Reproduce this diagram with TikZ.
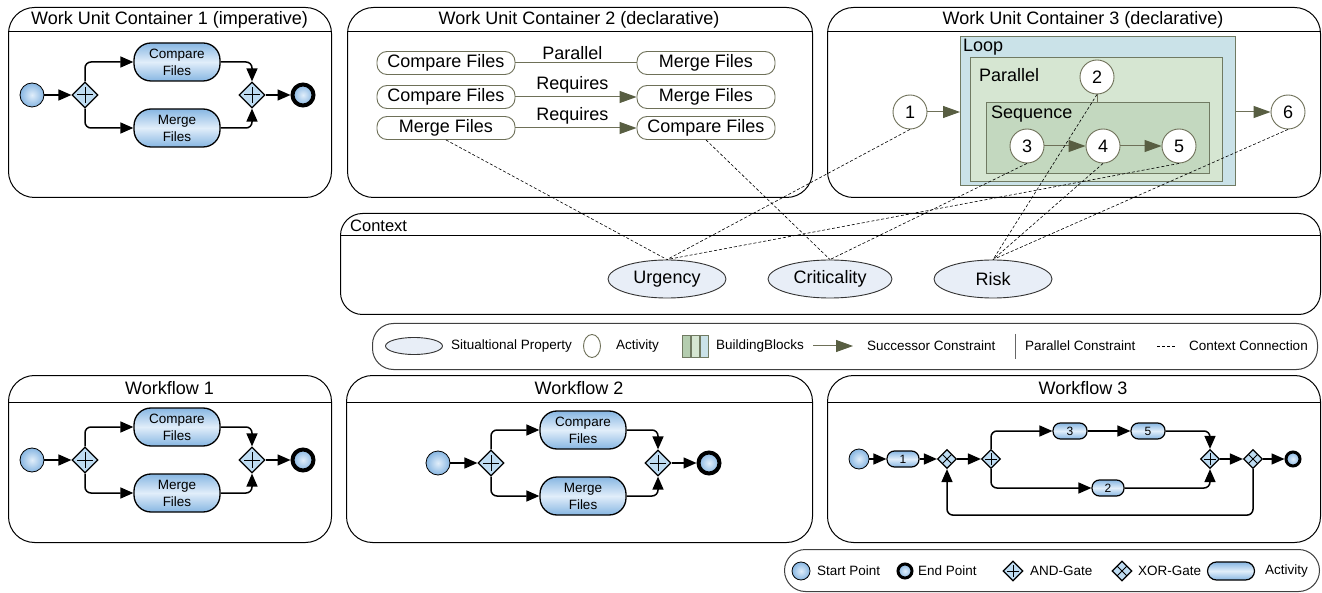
\documentclass[tikz,border=0pt]{standalone}
\usepackage{fontspec}
\setmainfont{Liberation Sans}
\usetikzlibrary{shapes.geometric,arrows.meta,calc}

\definecolor{actblue}{RGB}{135,182,226}
\definecolor{actlight}{RGB}{225,238,250}
\definecolor{gatefill}{RGB}{190,220,242}
\definecolor{oliveln}{RGB}{110,112,88}
\definecolor{olivedark}{RGB}{88,94,66}
\definecolor{bbline}{RGB}{112,122,98}
\definecolor{loopfill}{RGB}{202,226,232}
\definecolor{parfill}{RGB}{214,230,210}
\definecolor{seqfill}{RGB}{195,216,191}
\definecolor{propfill}{RGB}{232,238,247}
\definecolor{bbdark}{RGB}{180,205,175}

\newcommand\myfA{\fontsize{18}{20}\selectfont}
\newcommand\myfB{\fontsize{16.5}{18}\selectfont}
\newcommand\myfC{\fontsize{13.5}{17}\selectfont}
\newcommand\myfD{\fontsize{12}{13}\selectfont}

\tikzset{
  container/.style={draw=black, line width=1pt, rounded corners=26pt, fill=white, inner sep=0pt},
  legendbox/.style={draw=black!75, line width=1pt, rounded corners=21pt, fill=white, inner sep=0pt},
  ttl/.style={font=\myfA, inner sep=0pt},
  lgt/.style={font=\myfC, inner sep=0pt, anchor=west},
  act/.style={draw=black, line width=1.3pt, rounded corners=17pt, top color=actblue, bottom color=actblue,
    middle color=actlight, align=center, font=\myfC, inner sep=0pt, minimum width=86, minimum height=38},
  actS/.style={draw=black, line width=1.2pt, rounded corners=7.5pt, top color=actblue, bottom color=actblue,
    middle color=actlight, font=\myfD, inner sep=0pt, minimum width=32, minimum height=16},
  startpt/.style={circle, draw=black, line width=0.8pt, inner color=actlight, outer color=actblue, minimum size=24, inner sep=0pt},
  endpt/.style={circle, draw=black, line width=4pt, inner color=actlight, outer color=actblue, minimum size=21, inner sep=0pt},
  gatebase/.style={diamond, aspect=1, draw=black, line width=1.2pt, fill=gatefill, minimum size=26, inner sep=0pt},
  andgate/.style={gatebase, path picture={
    \draw[line width=1pt] ($(path picture bounding box.west)!0.2!(path picture bounding box.east)$) -- ($(path picture bounding box.west)!0.8!(path picture bounding box.east)$)
      ($(path picture bounding box.north)!0.2!(path picture bounding box.south)$) -- ($(path picture bounding box.north)!0.8!(path picture bounding box.south)$);}},
  xorgate/.style={gatebase, path picture={
    \draw[line width=1pt] ($(path picture bounding box.west)!0.5!(path picture bounding box.north)$) -- ($(path picture bounding box.south)!0.5!(path picture bounding box.east)$)
      ($(path picture bounding box.north)!0.5!(path picture bounding box.east)$) -- ($(path picture bounding box.west)!0.5!(path picture bounding box.south)$);}},
  flow/.style={draw=black, line width=1.5pt, rounded corners=6pt, -{Triangle[length=13pt,width=11pt]}},
  decl/.style={draw=oliveln, line width=0.9pt, rounded corners=10pt, fill=white, minimum width=138, minimum height=23, font=\myfA, inner sep=0pt},
  circ/.style={circle, draw=oliveln, line width=0.9pt, fill=white, minimum size=34, inner sep=0pt, font=\myfA},
  pline/.style={draw=oliveln, line width=1pt},
  darr/.style={draw=oliveln, line width=1pt, -{Triangle[length=17pt,width=12pt,color=olivedark]}},
  bblock/.style={draw=bbline, line width=1pt, anchor=north west, inner sep=0pt},
  prop/.style={ellipse, draw=black!80, line width=0.9pt, fill=propfill, minimum width=118, minimum height=38, inner sep=0pt, font=\myfA},
  ctx/.style={draw=black, line width=0.6pt, dash pattern=on 3pt off 2pt},
  lbl/.style={font=\myfA, inner sep=3pt}
}

\newcommand\parflow[1]{%
  \node[startpt] (#1s) at (32,95) {};
  \node[andgate] (#1g1) at (85,95) {};
  \node[act] (#1c) at (177,62) {Compare\\Files};
  \node[act] (#1m) at (177,128) {Merge\\Files};
  \node[andgate] (#1g2) at (252,95) {};
  \node[endpt] (#1e) at (303,95) {};
  \draw[flow] (#1s) -- (#1g1);
  \draw[flow] (#1g1.north) |- (#1c.west);
  \draw[flow] (#1g1.south) |- (#1m.west);
  \draw[flow] (#1c.east) -| (#1g2.north);
  \draw[flow] (#1m.east) -| (#1g2.south);
  \draw[flow] (#1g2) -- (#1e);
}

\begin{document}
\begin{tikzpicture}[x=1pt,y=-1pt]
\useasboundingbox (0,0) rectangle (1322,593);
\fill[white] (0,0) rectangle (1322,593);

% ---------------- containers ----------------
\node[container, minimum width=323, minimum height=190, anchor=north west] (wuc1) at (8,7) {};
\draw[line width=1pt] (8,32) -- (331,32);
\node[ttl] (wuc1t) at (169.5,19.5) {Work Unit Container 1 (imperative)};

\node[container, minimum width=465, minimum height=190, anchor=north west] (wuc2) at (347,7) {};
\draw[line width=1pt] (347,32) -- (812,32);
\node[ttl] (wuc2t) at (579,19.5) {Work Unit Container 2 (declarative)};

\node[container, minimum width=493, minimum height=190, anchor=north west] (wuc3) at (827,7) {};
\draw[line width=1pt] (827,32) -- (1320,32);
\node[ttl] (wuc3t) at (1083,19.5) {Work Unit Container 3 (declarative)};

\node[container, rounded corners=22pt, minimum width=980, minimum height=101, anchor=north west] (ctxbox) at (340,213) {};
\draw[line width=1pt] (340,236) -- (1320,236);
\node[font=\myfB, inner sep=0pt, anchor=west] (ctxt) at (350,225.5) {Context};

\node[legendbox, minimum width=945, minimum height=46, anchor=north west] (leg1) at (372,323) {};

\node[container, minimum width=323, minimum height=167, anchor=north west] (wf1) at (8,375) {};
\draw[line width=1pt] (8,402) -- (331,402);
\node[ttl] (wf1t) at (169.5,388.5) {Workflow 1};

\node[container, minimum width=466, minimum height=167, anchor=north west] (wf2) at (346,375) {};
\draw[line width=1pt] (346,402) -- (812,402);
\node[ttl] (wf2t) at (579,388.5) {Workflow 2};

\node[container, minimum width=493, minimum height=167, anchor=north west] (wf3) at (827,375) {};
\draw[line width=1pt] (827,402) -- (1320,402);
\node[ttl] (wf3t) at (1083,388.5) {Workflow 3};

\node[legendbox, minimum width=535, minimum height=42, anchor=north west] (leg2) at (784,549) {};

% ---------------- WUC1, Workflow 1, Workflow 2 ----------------
\begin{scope}\parflow{a}\end{scope}
\begin{scope}[shift={(0,365)}]\parflow{b}\end{scope}
\begin{scope}[shift={(406,368)}]\parflow{c}\end{scope}

% ---------------- WUC2 ----------------
\node[decl] (p1l) at (446,63) {Compare Files};
\node[decl] (p1r) at (706,63) {Merge Files};
\node[decl] (r1l) at (446,97) {Compare Files};
\node[decl] (r1r) at (706,97) {Merge Files};
\node[decl] (r2l) at (446,128) {Merge Files};
\node[decl] (r2r) at (706,128) {Compare Files};
\draw[pline] (p1l) -- (p1r) node[lbl, pos=0.47, above] (lpar) {Parallel};
\draw[darr] (r1l) -- (r1r) node[lbl, pos=0.47, above] (lreq1) {Requires};
\draw[darr] (r2l) -- (r2r) node[lbl, pos=0.47, above] (lreq2) {Requires};

% ---------------- WUC3 ----------------
\node[bblock, fill=loopfill, minimum width=275, minimum height=149] (loop) at (960,36) {};
\node[bblock, fill=parfill, minimum width=252, minimum height=124] (par) at (970,57) {};
\node[bblock, fill=seqfill, minimum width=223, minimum height=71] (seq) at (986,102) {};
\node[font=\myfA, inner sep=0pt, anchor=west] (loopt) at (963,47) {Loop};
\node[font=\myfA, inner sep=0pt, anchor=west] (part) at (979,75) {Parallel};
\node[font=\myfA, inner sep=0pt, anchor=west] (seqt) at (991,114) {Sequence};
\node[circ] (k1) at (910,112) {1};
\node[circ] (k2) at (1097,77) {2};
\node[circ] (k3) at (1027,146) {3};
\node[circ] (k4) at (1103,146) {4};
\node[circ] (k5) at (1179,146) {5};
\node[circ] (k6) at (1288,112) {6};
\draw[darr] (k1) -- (k1 -| loop.west);
\draw[darr] (loop.east |- k6) -- (k6);
\draw[darr] (k3) -- (k4);
\draw[darr] (k4) -- (k5);
\draw[pline] (k2.south) -- (k2.south |- seq.north);

% ---------------- Context ----------------
\node[prop] (urg) at (667,279) {Urgency};
\node[prop, minimum width=124] (crit) at (830,279) {Criticality};
\node[prop] (risk) at (993,279) {Risk};

% ---------------- Workflow 3 ----------------
\node[startpt, minimum size=20] (w3s) at (859,459) {};
\node[actS] (w3n1) at (903,459) {1};
\node[xorgate, minimum size=19] (w3x1) at (947,459) {};
\node[andgate, minimum size=19] (w3a1) at (991,459) {};
\node[actS, minimum width=34] (w3n3) at (1070,431) {3};
\node[actS, minimum width=34] (w3n5) at (1148,431) {5};
\node[actS] (w3n2) at (1108,488) {2};
\node[andgate, minimum size=19] (w3a2) at (1210,459) {};
\node[xorgate, minimum size=19] (w3x2) at (1253,459) {};
\node[endpt, minimum size=14, line width=3pt] (w3e) at (1293,459) {};
\draw[flow] (w3s) -- (w3n1);
\draw[flow] (w3n1) -- (w3x1);
\draw[flow] (w3x1) -- (w3a1);
\draw[flow] (w3a1.north) |- (w3n3);
\draw[flow] (w3n3) -- (w3n5);
\draw[flow] (w3n5) -| (w3a2.north);
\draw[flow] (w3a1.south) |- (w3n2);
\draw[flow] (w3n2) -| (w3a2.south);
\draw[flow] (w3a2) -- (w3x2);
\draw[flow] (w3x2) -- (w3e);
\draw[flow] (w3x2.south) -- ++(0,46) -| (w3x1.south);

% ---------------- Legend 1 ----------------
\node[prop, minimum width=57, minimum height=17] (l1e) at (414,346) {};
\node[lgt] (l1et) at (451,346) {Situaltional Property};
\node[ellipse, draw=oliveln, line width=0.9pt, fill=white, minimum width=17, minimum height=23, inner sep=0pt] (l1c) at (592,346) {};
\node[lgt] (l1ct) at (616,346) {Activity};
\node[bblock, fill=bbdark, minimum width=8, minimum height=22] (l1b1) at (682,335) {};
\node[bblock, fill=parfill, minimum width=8, minimum height=22] (l1b2) at (691,335) {};
\node[bblock, fill=loopfill, minimum width=8, minimum height=22] (l1b3) at (700,335) {};
\node[lgt] (l1bt) at (716,346) {BuildingBlocks};
\coordinate (l1a0) at (813,346);
\coordinate (l1a1) at (853,346);
\draw[darr] (l1a0) -- (l1a1);
\node[lgt] (l1at) at (867,346) {Successor Constraint};
\coordinate (l1p0) at (1015,334);
\coordinate (l1p1) at (1015,359);
\draw[draw=black!60, line width=0.8pt] (l1p0) -- (l1p1);
\node[lgt] (l1pt) at (1025,346) {Parallel Constraint};
\coordinate (l1d0) at (1157,346);
\coordinate (l1d1) at (1175,346);
\draw[ctx] (l1d0) -- (l1d1);
\node[lgt] (l1dt) at (1189,346) {Context Connection};

% ---------------- Legend 2 ----------------
\node[startpt, minimum size=18] (l2s) at (801,571) {};
\node[lgt] (l2st) at (817,571) {Start Point};
\node[endpt, minimum size=14, line width=3pt] (l2e) at (905,571) {};
\node[lgt] (l2et) at (918,571) {End Point};
\node[andgate, minimum size=20] (l2a) at (1013,571) {};
\node[lgt] (l2at) at (1030,571) {AND-Gate};
\node[xorgate, minimum size=20] (l2x) at (1122,571) {};
\node[lgt] (l2xt) at (1138,571) {XOR-Gate};
\node[actS, minimum width=47, minimum height=18, rounded corners=9pt] (l2p) at (1231,571) {};
\node[lgt] (l2pt) at (1265,571) {Activity};

% ---------------- context connections ----------------
\draw[ctx] (r2l.south) -- (urg.north);
\draw[ctx] (r2r.south) -- (crit.north);
\draw[ctx] (k1.south) -- (urg.north);
\draw[ctx] (k5.south) -- (urg.north);
\draw[ctx] (k3.south) -- (crit.north);
\draw[ctx] (k2.south) -- (risk.north);
\draw[ctx] (k4.south) -- (risk.north);
\draw[ctx] (k6.south) -- (risk.north);
\end{tikzpicture}
\end{document}
